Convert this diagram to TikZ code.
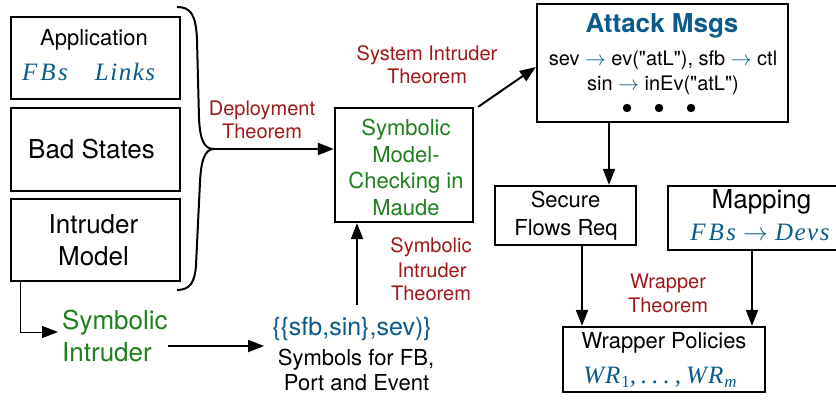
\documentclass[tikz,border=0pt]{standalone}
\usepackage{fontspec}
\setmainfont{TeX Gyre Heros}
\newfontfamily\tms{Liberation Serif}
\newfontfamily\hvplain{TeX Gyre Heros}
\usetikzlibrary{arrows.meta,calc}
\definecolor{msgblue}{HTML}{0B5A8C}
\definecolor{thmred}{HTML}{A01818}
\definecolor{mcgreen}{HTML}{1F7F1F}
\newcommand{\fs}[1]{\fontsize{#1}{#1}\selectfont}
\newcommand{\dq}{{\hvplain"}}
\tikzset{
  box/.style={draw, line width=2.3pt, inner sep=0pt},
  arr/.style={line width=2pt, -{Triangle[length=16pt,width=12pt]}},
  thinarr/.style={line width=1pt, -{Triangle[length=16pt,width=12pt]}},
  txt/.style={inner sep=0pt, anchor=base},
  big/.style={txt, font=\fs{26}},
  mid/.style={txt, font=\fs{22}},
  thm/.style={txt, text=thmred, font=\fs{20}},
  mc/.style={txt, text=mcgreen, font=\fs{22}},
  mi/.style={txt, text=msgblue, font=\tms\itshape\fs{25}},
}
\begin{document}
\begin{tikzpicture}[x=1pt,y=-1pt]
\useasboundingbox (0,0) rectangle (836,400);
\clip (0,0) rectangle (836,400);

% input boxes
\node[box, minimum width=169, minimum height=82] (app) at (95.5,58) {};
\node[mid] (apptitle) at (94,45) {Application};
\node[mi] (fbs) at (45,80) {F\kern3pt B\kern2.5pt s};
\node[mi] (links) at (125,80) {L\kern1.5pt i\kern1.5pt n\kern1.5pt k\kern1.5pt s};

\node[box, minimum width=169, minimum height=83] (bad) at (95.5,149.5) {};
\node[big] (badtxt) at (91.5,158) {Bad States};

\node[box, minimum width=169, minimum height=82] (intr) at (95.5,240) {};
\node[big] (intr1) at (93.5,233) {Intruder};
\node[big] (intr2) at (93.5,265) {Model};

% brace joining the three inputs
\coordinate (tip) at (214,149);
\draw[line width=2pt]
  (177,7) .. controls (191,7) and (196,15) .. (197,40)
  -- (199,118) .. controls (200,140) and (204,149) .. (tip)
  .. controls (205,149) and (201,160) .. (200,182)
  -- (196,265) .. controls (195,282) and (190,290) .. (177,290);

\node[thm] (dep1) at (262,115) {Deployment};
\node[thm] (dep2) at (262,138) {Theorem};

% model checker
\node[box, minimum width=138, minimum height=114] (smc) at (404,165) {};
\node[mc] (smc1) at (406,135) {Symbolic};
\node[mc] (smc2) at (406,162) {Model-};
\node[mc] (smc3) at (406,188) {Checking in};
\node[mc] (smc4) at (406,215) {Maude};
\draw[arr] (tip) -- (smc.west |- tip);

\node[thm] (sit1) at (427,60) {System Intruder};
\node[thm] (sit2) at (427,83) {Theorem};

% attack messages
\node[box, minimum width=251, minimum height=118] (atk) at (662.5,63) {};
\node[txt, text=msgblue, font=\bfseries\fs{26}] (atktitle) at (662,32) {Attack Msgs};
\node[txt, font=\fs{20}] (atk1) at (663,65) {sev \textcolor{msgblue}{$\rightarrow$} ev(\dq atL\dq), sfb \textcolor{msgblue}{$\rightarrow$} ctl};
\node[txt, font=\fs{20}] (atk2) at (663,90) {sin \textcolor{msgblue}{$\rightarrow$} inEv(\dq atL\dq)};
\foreach \x in {627,659,691} \fill (\x,108) circle (4.2);
\draw[arr] ($(smc.north east)+(4,0)$) -- ($(atk.west)+(0,4)$);

% secure flows and mapping
\node[box, minimum width=141, minimum height=59] (sec) at (565.5,215.5) {};
\node[mid] (sec1) at (565.5,207) {Secure};
\node[mid] (sec2) at (566,235) {Flows Req};
\coordinate (down) at (609,0);
\draw[arr] (atk.south -| down) -- (sec.north -| down);

\node[box, minimum width=186, minimum height=64] (map) at (761,218) {};
\node[big] (map1) at (761.5,208) {Mapping};
\node[mi] (map2) at (760,240) {F\kern3pt B\kern2.5pt s\kern7pt$\rightarrow$\kern7pt D\kern1.5pt e\kern1.5pt v\kern1.5pt s};

% wrapper policies
\node[box, minimum width=202, minimum height=65] (wrp) at (664,359.5) {};
\node[mid] (wrp1) at (664,348) {Wrapper Policies};
\node[mi] (wrp2) at (660,383) {W\kern1pt R\kern1pt\raisebox{-4pt}{\upshape\fs{17}1},\kern5pt.\kern5pt.\kern5pt.\kern5pt,\kern5pt W\kern1pt R\kern1pt\raisebox{-4pt}{\fs{17}m}};
\coordinate (lft) at (582,0);
\coordinate (rgt) at (752,0);
\draw[arr] (sec.south -| lft) -- (wrp.north -| lft);
\draw[arr] (map.south -| rgt) -- (wrp.north -| rgt);

\node[thm] (wt1) at (668,288) {Wrapper};
\node[thm] (wt2) at (668,312) {Theorem};

% symbolic intruder
\node[txt, anchor=base west, text=mcgreen, font=\fs{26}] (si1) at (62,329) {Symbolic};
\node[txt, anchor=base west, text=mcgreen, font=\fs{26}] (si2) at (62,361) {Intruder};
\coordinate (bend) at (20,332);
\draw[thinarr] (intr.south -| bend) -- (bend) -- ($(si1.west |- bend)+(-4,0)$);

\node[txt, text=msgblue, font=\fs{25}] (set) at (352,335) {\{\{sfb,sin\},sev)\}};
\node[mid] (set2) at (356,365) {Symbols for FB,};
\node[mid] (set3) at (356.5,390) {Port and Event};
\coordinate (hz) at (0,346);
\draw[arr] ($(si2.east |- hz)+(16,0)$) -- ($(set.west |- hz)+(-8,0)$);
\coordinate (up) at (357,305);
\draw[arr] (up) -- (smc.south -| up);

\node[thm] (sim1) at (431,252) {Symbolic};
\node[thm] (sim2) at (432,277) {Intruder};
\node[thm] (sim3) at (431,300) {Theorem};
\end{tikzpicture}
\end{document}
